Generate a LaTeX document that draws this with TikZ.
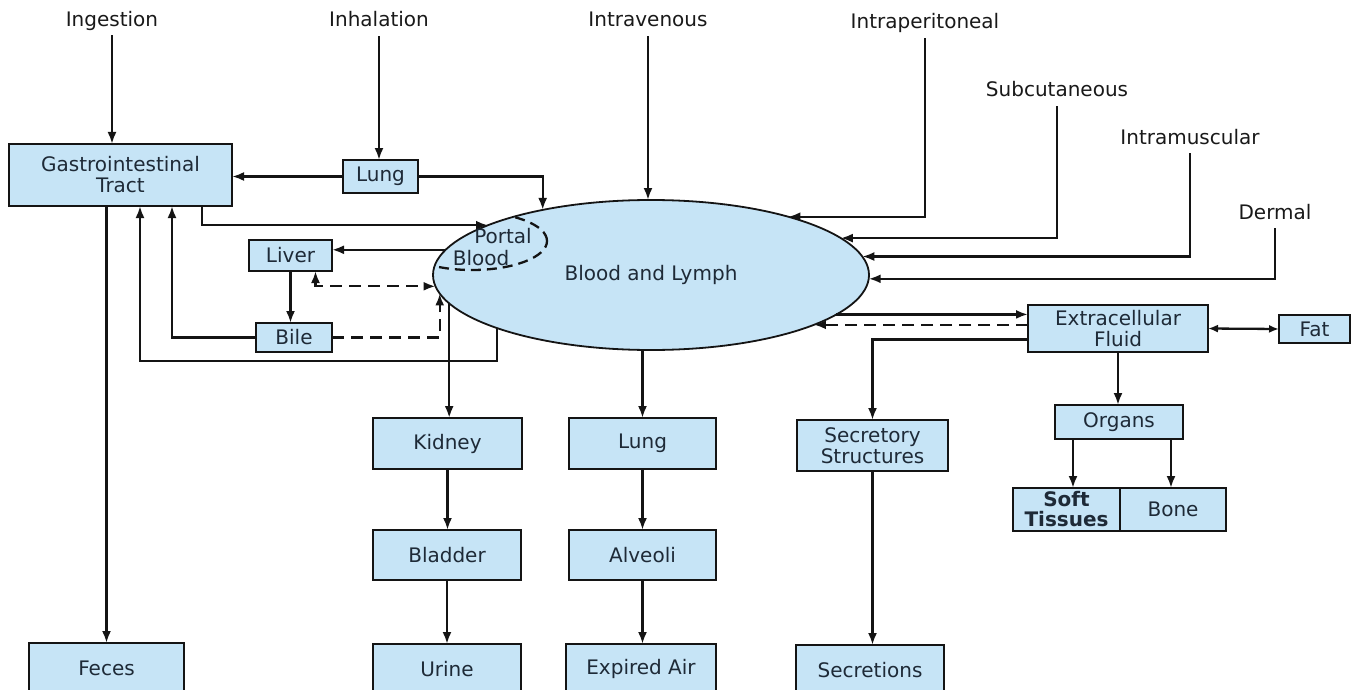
\documentclass[tikz,border=0pt]{standalone}
\usepackage{fontspec}
\setmainfont{DejaVu Sans}
\usetikzlibrary{arrows.meta,calc,shapes.geometric}
\definecolor{boxfill}{RGB}{198,228,246}
\definecolor{txt}{RGB}{30,42,55}
\definecolor{edge}{RGB}{20,20,20}
\begin{document}
\begin{tikzpicture}[x=1pt,y=-1pt,
  font=\fontsize{20}{21}\selectfont,
  box/.style={draw=edge,line width=2.2pt,fill=boxfill,inner sep=0pt,outer sep=0pt,text=txt,align=center},
  sz/.style 2 args={minimum width=#1,minimum height=#2},
  lab/.style={inner sep=0pt,text=black!90,text height=14pt,text depth=4pt},
  arr/.style={draw=edge,line width=2.3pt,-{Latex[length=12pt,width=9pt]}},
  darr/.style={draw=edge,line width=2.3pt,dash pattern=on 12pt off 7pt,-{Latex[length=12pt,width=9pt]}},
  ddarr/.style={draw=edge,line width=2.3pt,dash pattern=on 12pt off 7pt,{Latex[length=12pt,width=9pt]}-{Latex[length=12pt,width=9pt]}},
  biarr/.style={draw=edge,line width=2.3pt,{Latex[length=10pt,width=8pt]}-{Latex[length=10pt,width=8pt]}}
]
\useasboundingbox (0,0) rectangle (1359,690);
\clip (0,0) rectangle (1359,690);

% central ellipse
\node[ellipse,draw=edge,line width=1.8pt,fill=boxfill,sz={436pt}{150pt},inner sep=0pt,outer sep=0pt,text=txt] (bl) at (651,275) {Blood and Lymph};
\begin{scope}
  \clip (651,275) ellipse [x radius=218pt, y radius=75pt];
  \draw[edge,line width=2.3pt,dash pattern=on 10pt off 6pt] (472,241) ellipse [x radius=75pt, y radius=29pt];
\end{scope}
\node[text=txt,inner sep=0pt] (portal) at (503,236) {Portal};
\node[text=txt,inner sep=0pt] (pblood) at (481,258) {Blood};

% top labels
\node[lab] (ing) at (112,22) {Ingestion};
\node[lab] (inh) at (379,22) {Inhalation};
\node[lab] (iv)  at (648,22) {Intravenous};
\node[lab] (ip)  at (925,24) {Intraperitoneal};
\node[lab] (sc)  at (1057,92) {Subcutaneous};
\node[lab] (im)  at (1190,139) {Intramuscular};
\node[lab] (de)  at (1275,214) {Dermal};

% boxes
\node[box,sz={223pt}{62pt}] (gi) at (120.5,175) {Gastrointestinal\\Tract};
\node[box,sz={75pt}{33pt}] (lung1) at (380.5,176.5) {Lung};
\node[box,sz={83pt}{31pt}] (liver) at (290.5,255.5) {Liver};
\node[box,sz={76pt}{29pt}] (bile) at (294,337.5) {Bile};
\node[box,sz={149pt}{51pt}] (kid) at (447.5,443.5) {Kidney};
\node[box,sz={148pt}{50pt}] (bla) at (447,555) {Bladder};
\node[box,sz={148pt}{50pt}] (uri) at (447,669) {Urine};
\node[box,sz={147pt}{51pt}] (lung2) at (642.5,443.5) {Lung};
\node[box,sz={147pt}{50pt}] (alv) at (642.5,555) {Alveoli};
\node[box,sz={150pt}{50pt}] (exp) at (641,669) {Expired Air};
\node[box,sz={155pt}{50pt}] (fec) at (106.5,668) {Feces};
\node[box,sz={151pt}{51pt}] (sec) at (872.5,445.5) {Secretory\\Structures};
\node[box,sz={148pt}{50pt}] (secr) at (870,670) {Secretions};
\node[box,sz={180pt}{47pt}] (ef) at (1118,328.5) {Extracellular\\Fluid};
\node[box,sz={71pt}{28pt}] (fat) at (1314.5,329) {Fat};
\node[box,sz={128pt}{34pt}] (org) at (1119,422) {Organs};
\node[box,sz={107pt}{43pt},font=\fontsize{20}{20}\selectfont\bfseries] (soft) at (1066.5,509.5) {Soft\\Tissues};
\node[box,sz={106pt}{43pt}] (bone) at (1173,509.5) {Bone};

% routes of entry
\draw[arr] ([yshift=-4pt]ing.south) -- (ing.south |- gi.north);
\draw[arr] ([yshift=-5pt]inh.south) -- (inh.south |- lung1.north);
\draw[arr] ([yshift=-5pt]iv.south) -- (iv.south |- bl.north);
\draw[arr] ([yshift=-5pt]ip.south) |- (bl.23);
\draw[arr] ([yshift=-5pt]sc.south) |- (bl.11);
\draw[arr] ([yshift=-5pt]im.south) |- (bl.5);
\draw[arr] ([yshift=-5pt]de.south) |- (bl.359);

% left part
\draw[arr] (lung1.west) -- (lung1.west -| gi.east);
\draw[arr] (lung1.east) -| (bl.149);
\draw[arr] ($(gi.south west)+(193,0)$) |- (bl.163);
\draw[arr] (bl.173) -- (bl.173 -| liver.east);
\draw[ddarr] ($(liver.south)+(25,0)$) |- (bl.183);
\draw[arr] (liver.south) -- (liver.south |- bile.north);
\draw[darr] (bile.east) -| (bl.185);
\draw[arr] (bile.west) -| ($(gi.south west)+(163,0)$);
\draw[arr] (bl.199) |- ($(gi.south west)+(131,155)$) -- ($(gi.south west)+(131,0)$);
\draw[arr] (gi.south -| fec.north) -- (fec.north);

% excretion
\draw[arr] (bl.188) -- (bl.188 |- kid.north);
\draw[arr] (kid.south) -- (kid.south |- bla.north);
\draw[arr] (bla.south) -- (bla.south |- uri.north);
\draw[arr] (bl.south -| lung2.north) -- (lung2.north);
\draw[arr] (lung2.south) -- (lung2.south |- alv.north);
\draw[arr] (alv.south) -- (alv.south |- exp.north);

% right part
\draw[arr] (bl.348) -- (bl.348 -| ef.west);
\draw[darr] (bl.343 -| ef.west) -- (bl.343);
\draw[arr] ($(ef.west)+(0,11)$) -| (sec.north);
\draw[arr] (sec.south) -- (sec.south |- secr.north);
\draw[biarr] (ef.east) -- (fat.west);
\draw[arr] (ef.south) -- (ef.south |- org.north);
\coordinate (o1) at ($(org.south)+(-46,0)$);
\coordinate (o2) at ($(org.south)+(52,0)$);
\draw[arr] (o1) -- (o1 |- soft.north);
\draw[arr] (o2) -- (o2 |- bone.north);
\end{tikzpicture}
\end{document}
